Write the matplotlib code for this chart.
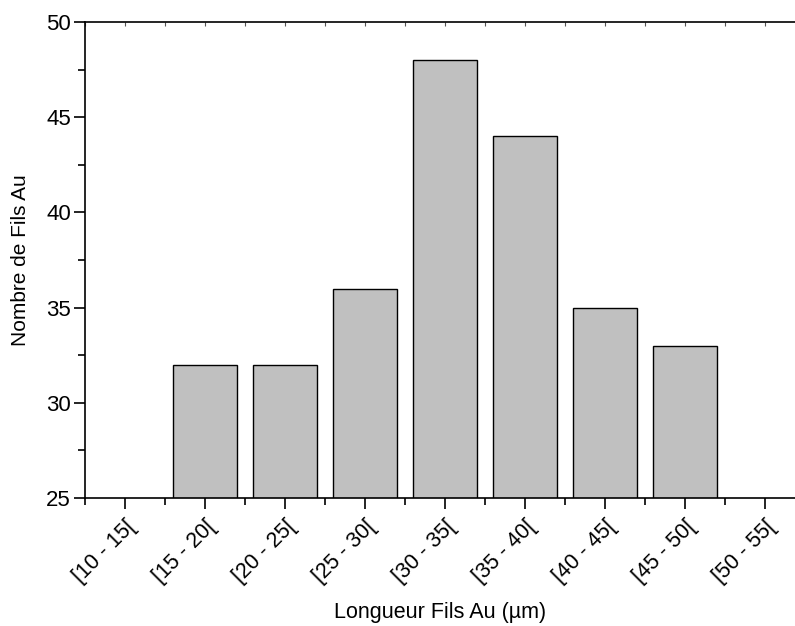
import numpy as np
import matplotlib.pyplot as plt
from matplotlib.ticker import MultipleLocator

plt.rcParams['font.family'] = ['Liberation Sans', 'DejaVu Sans']

categories = ['[10 - 15[', '[15 - 20[', '[20 - 25[', '[25 - 30[', '[30 - 35[',
              '[35 - 40[', '[40 - 45[', '[45 - 50[', '[50 - 55[']
counts = [0, 32, 32, 36, 48, 44, 35, 33, 0]

fig = plt.figure(figsize=(7.95, 6.26), dpi=100)
ax = fig.add_axes([85 / 795, 128 / 626, 1 - 85 / 795, 476 / 626])

x = np.arange(len(categories))
ax.bar(x, counts, width=0.8, color='#c0c0c0', edgecolor='black', linewidth=1.0)

ax.set_xlim(-0.5, 8.375)
ax.set_ylim(25, 50)

ax.set_xticks(x)
ax.set_xticklabels(categories, rotation=45, ha='right', rotation_mode='anchor')
ax.xaxis.set_minor_locator(MultipleLocator(0.5))
ax.yaxis.set_major_locator(MultipleLocator(5))
ax.yaxis.set_minor_locator(MultipleLocator(2.5))

ax.spines['right'].set_visible(False)
for s in ['left', 'bottom', 'top']:
    ax.spines[s].set_linewidth(1.2)

ax.tick_params(axis='both', which='major', direction='out', length=8, width=1.2, labelsize=16)
ax.tick_params(axis='both', which='minor', direction='out', length=5, width=1.2)
ax.tick_params(axis='x', which='major', labelsize=15.5, pad=5)
ax.tick_params(axis='y', which='major', pad=2)

# small inward ticks along the top edge
top = ax.secondary_xaxis('top')
top.set_xticks(x)
top.xaxis.set_minor_locator(MultipleLocator(0.5))
top.tick_params(which='both', direction='in', length=3, width=0.8, labeltop=False, colors='#555555')
top.spines['top'].set_visible(False)

ax.set_xlabel('Longueur Fils Au (µm)', fontsize=15.5)
ax.xaxis.set_label_coords(0.5, -0.218)
ax.set_ylabel('Nombre de Fils Au', fontsize=15)
ax.yaxis.set_label_coords(-0.077, 0.5)

fig.savefig('out.png', dpi=100)
